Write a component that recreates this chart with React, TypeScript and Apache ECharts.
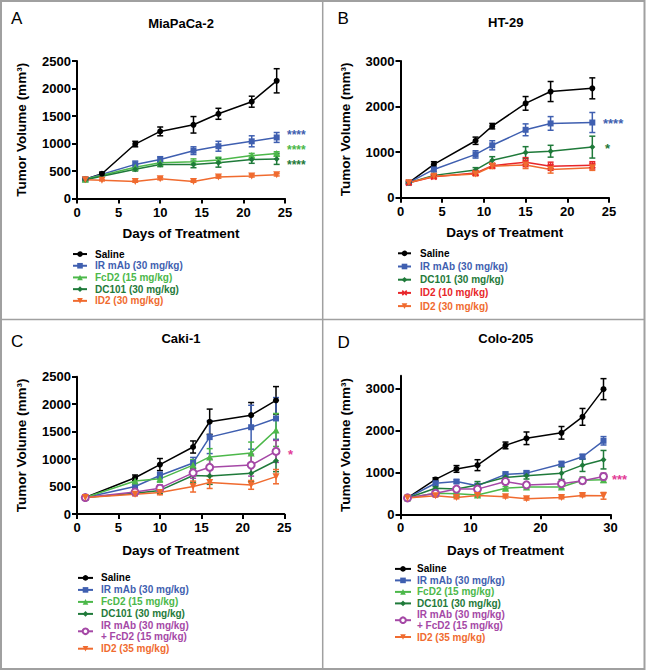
import React, { useEffect, useRef } from "react";
import * as echarts from "echarts";

const FONT = "'Liberation Sans', Arial, Helvetica, sans-serif";

const COL_SALINE = "#000000";
const COL_IR = "#3f5fb0";
const COL_FCD2 = "#4cb84a";
const COL_DC101 = "#1f7a3a";
const COL_ID2 = "#f06b2f";
const COL_ID2_10 = "#e8262a";
const COL_COMBO = "#a548a6";
const COL_STAR_PINK = "#e23c96";

const NAME_SALINE = "Saline";
const NAME_IR = "IR mAb (30 mg/kg)";
const NAME_FCD2 = "FcD2 (15 mg/kg)";
const NAME_DC101 = "DC101 (30 mg/kg)";
const NAME_ID2_30 = "ID2 (30 mg/kg)";
const NAME_ID2_10 = "ID2 (10 mg/kg)";
const NAME_ID2_35 = "ID2 (35 mg/kg)";
const NAME_COMBO = "IR mAb (30 mg/kg)\n+ FcD2 (15 mg/kg)";

const X_NAME = "Days of Treatment";
const Y_NAME = "Tumor Volume (mm³)";
const TITLES = ["MiaPaCa-2", "HT-29", "Caki-1", "Colo-205"];
const LETTERS = ["A", "B", "C", "D"];

// Panel A: MiaPaCa-2
const A_DAYS = [1, 3, 7, 10, 14, 17, 21, 24];
const A_DAYS_TX = [1, 7, 10, 14, 17, 21, 24];
const A_SALINE = [350, 450, 990, 1220, 1340, 1540, 1760, 2140];
const A_SALINE_ERR = [20, 30, 50, 80, 150, 100, 100, 220];
const A_IR = [350, 620, 710, 870, 950, 1040, 1110];
const A_IR_ERR = [20, 60, 50, 70, 90, 100, 90];
const A_FCD2 = [350, 570, 650, 670, 700, 780, 820];
const A_FCD2_ERR = [20, 40, 40, 50, 50, 40, 30];
const A_DC101 = [340, 530, 620, 620, 650, 710, 720];
const A_DC101_ERR = [20, 30, 40, 60, 80, 70, 100];
const A_ID2 = [340, 330, 310, 360, 310, 390, 410, 430];
const A_ID2_ERR = [10, 10, 15, 20, 15, 20, 20, 20];

// Panel B: HT-29
const B_DAYS = [1, 4, 9, 11, 15, 18, 23];
const B_SALINE = [330, 730, 1250, 1570, 2070, 2330, 2400];
const B_SALINE_ERR = [20, 60, 80, 60, 150, 220, 230];
const B_IR = [330, 620, 950, 1150, 1490, 1630, 1650];
const B_IR_ERR = [20, 50, 80, 100, 130, 150, 220];
const B_DC101 = [330, 490, 610, 820, 990, 1020, 1110];
const B_DC101_ERR = [20, 30, 50, 80, 130, 130, 240];
const B_ID2_10 = [330, 460, 540, 700, 780, 690, 710];
const B_ID2_10_ERR = [20, 40, 40, 50, 100, 90, 80];
const B_ID2_30 = [330, 470, 520, 690, 720, 620, 660];
const B_ID2_30_ERR = [20, 30, 40, 50, 80, 80, 60];

// Panel C: Caki-1
const C_DAYS = [1, 7, 10, 14, 16, 21, 24];
const C_SALINE = [300, 660, 900, 1220, 1680, 1800, 2070];
const C_SALINE_ERR = [20, 50, 110, 110, 230, 230, 250];
const C_IR = [300, 500, 700, 930, 1400, 1580, 1740];
const C_IR_ERR = [20, 60, 60, 100, 300, 400, 380];
const C_FCD2 = [300, 600, 640, 890, 1040, 1110, 1530];
const C_FCD2_ERR = [20, 50, 60, 100, 150, 200, 300];
const C_DC101 = [300, 380, 430, 700, 690, 740, 970];
const C_DC101_ERR = [20, 30, 60, 120, 150, 150, 200];
const C_COMBO = [300, 400, 470, 750, 850, 890, 1140];
const C_COMBO_ERR = [20, 40, 60, 100, 150, 200, 200];
const C_ID2 = [300, 360, 390, 500, 575, 530, 680];
const C_ID2_ERR = [20, 30, 40, 100, 110, 80, 130];

// Panel D: Colo-205
const D_DAYS = [1, 5, 8, 11, 15, 18, 23, 26, 29];
const D_SALINE = [390, 830, 1080, 1170, 1640, 1810, 1940, 2320, 2980];
const D_SALINE_ERR = [20, 40, 80, 130, 80, 150, 150, 200, 250];
const D_IR = [390, 740, 780, 680, 950, 980, 1200, 1370, 1750];
const D_IR_ERR = [20, 40, 40, 50, 60, 60, 60, 60, 100];
const D_FCD2 = [390, 500, 490, 460, 620, 650, 650, 810, 820];
const D_FCD2_ERR = [20, 30, 30, 40, 40, 40, 40, 80, 60];
const D_DC101 = [390, 620, 600, 700, 880, 920, 980, 1170, 1300];
const D_DC101_ERR = [20, 40, 40, 80, 80, 80, 150, 150, 220];
const D_COMBO = [390, 500, 600, 600, 780, 700, 730, 800, 900];
const D_COMBO_ERR = [20, 40, 40, 40, 50, 50, 50, 60, 80];
const D_ID2 = [390, 440, 400, 450, 420, 370, 400, 450, 440];
const D_ID2_ERR = [20, 30, 30, 30, 30, 30, 30, 30, 80];

const X_MAX = [25, 25, 25, 30];
const X_INTERVAL = [5, 5, 5, 10];
const Y_MAX = [2500, 3000, 2500, 3300];
const Y_INTERVAL = [500, 1000, 500, 1000];
const D_Y_TICKS = [0, 1000, 2000, 3000];

const X_SYMBOL = "path://M0,2L2,0L5,3L8,0L10,2L7,5L10,8L8,10L5,7L2,10L0,8L3,5Z";

type Sym = { symbol: string; size: number; rotate?: number };
const SYM: Record<string, Sym> = {
  saline: { symbol: "circle", size: 6 },
  ir: { symbol: "rect", size: 6 },
  fcd2: { symbol: "triangle", size: 7 },
  dc101: { symbol: "diamond", size: 6 },
  id2: { symbol: "triangle", size: 7, rotate: 180 },
  id2x: { symbol: X_SYMBOL, size: 7 },
  combo: { symbol: "emptyCircle", size: 7 },
};

type S = { panel: number; name: string; days: number[]; vals: number[]; errs: number[]; color: string; sym: Sym };

const SERIES: S[] = [
  { panel: 0, name: NAME_SALINE, days: A_DAYS, vals: A_SALINE, errs: A_SALINE_ERR, color: COL_SALINE, sym: SYM.saline },
  { panel: 0, name: NAME_IR, days: A_DAYS_TX, vals: A_IR, errs: A_IR_ERR, color: COL_IR, sym: SYM.ir },
  { panel: 0, name: NAME_FCD2, days: A_DAYS_TX, vals: A_FCD2, errs: A_FCD2_ERR, color: COL_FCD2, sym: SYM.fcd2 },
  { panel: 0, name: NAME_DC101, days: A_DAYS_TX, vals: A_DC101, errs: A_DC101_ERR, color: COL_DC101, sym: SYM.dc101 },
  { panel: 0, name: NAME_ID2_30, days: A_DAYS, vals: A_ID2, errs: A_ID2_ERR, color: COL_ID2, sym: SYM.id2 },

  { panel: 1, name: NAME_SALINE, days: B_DAYS, vals: B_SALINE, errs: B_SALINE_ERR, color: COL_SALINE, sym: SYM.saline },
  { panel: 1, name: NAME_IR, days: B_DAYS, vals: B_IR, errs: B_IR_ERR, color: COL_IR, sym: SYM.ir },
  { panel: 1, name: NAME_DC101, days: B_DAYS, vals: B_DC101, errs: B_DC101_ERR, color: COL_DC101, sym: SYM.dc101 },
  { panel: 1, name: NAME_ID2_10, days: B_DAYS, vals: B_ID2_10, errs: B_ID2_10_ERR, color: COL_ID2_10, sym: SYM.id2x },
  { panel: 1, name: NAME_ID2_30, days: B_DAYS, vals: B_ID2_30, errs: B_ID2_30_ERR, color: COL_ID2, sym: SYM.id2 },

  { panel: 2, name: NAME_SALINE, days: C_DAYS, vals: C_SALINE, errs: C_SALINE_ERR, color: COL_SALINE, sym: SYM.saline },
  { panel: 2, name: NAME_IR, days: C_DAYS, vals: C_IR, errs: C_IR_ERR, color: COL_IR, sym: SYM.ir },
  { panel: 2, name: NAME_FCD2, days: C_DAYS, vals: C_FCD2, errs: C_FCD2_ERR, color: COL_FCD2, sym: SYM.fcd2 },
  { panel: 2, name: NAME_DC101, days: C_DAYS, vals: C_DC101, errs: C_DC101_ERR, color: COL_DC101, sym: SYM.dc101 },
  { panel: 2, name: NAME_COMBO, days: C_DAYS, vals: C_COMBO, errs: C_COMBO_ERR, color: COL_COMBO, sym: SYM.combo },
  { panel: 2, name: NAME_ID2_35, days: C_DAYS, vals: C_ID2, errs: C_ID2_ERR, color: COL_ID2, sym: SYM.id2 },

  { panel: 3, name: NAME_SALINE, days: D_DAYS, vals: D_SALINE, errs: D_SALINE_ERR, color: COL_SALINE, sym: SYM.saline },
  { panel: 3, name: NAME_IR, days: D_DAYS, vals: D_IR, errs: D_IR_ERR, color: COL_IR, sym: SYM.ir },
  { panel: 3, name: NAME_FCD2, days: D_DAYS, vals: D_FCD2, errs: D_FCD2_ERR, color: COL_FCD2, sym: SYM.fcd2 },
  { panel: 3, name: NAME_DC101, days: D_DAYS, vals: D_DC101, errs: D_DC101_ERR, color: COL_DC101, sym: SYM.dc101 },
  { panel: 3, name: NAME_COMBO, days: D_DAYS, vals: D_COMBO, errs: D_COMBO_ERR, color: COL_COMBO, sym: SYM.combo },
  { panel: 3, name: NAME_ID2_35, days: D_DAYS, vals: D_ID2, errs: D_ID2_ERR, color: COL_ID2, sym: SYM.id2 },
];

const LEGENDS: { names: string[]; colors: string[] }[] = [
  { names: [NAME_SALINE, NAME_IR, NAME_FCD2, NAME_DC101, NAME_ID2_30], colors: [COL_SALINE, COL_IR, COL_FCD2, COL_DC101, COL_ID2] },
  { names: [NAME_SALINE, NAME_IR, NAME_DC101, NAME_ID2_10, NAME_ID2_30], colors: [COL_SALINE, COL_IR, COL_DC101, COL_ID2_10, COL_ID2] },
  { names: [NAME_SALINE, NAME_IR, NAME_FCD2, NAME_DC101, NAME_COMBO, NAME_ID2_35], colors: [COL_SALINE, COL_IR, COL_FCD2, COL_DC101, COL_COMBO, COL_ID2] },
  { names: [NAME_SALINE, NAME_IR, NAME_FCD2, NAME_DC101, NAME_COMBO, NAME_ID2_35], colors: [COL_SALINE, COL_IR, COL_FCD2, COL_DC101, COL_COMBO, COL_ID2] },
];

// layout (pixels)
const GRIDS = [
  { left: 77, top: 61, width: 208, height: 137.5 },
  { left: 400.5, top: 61, width: 208.5, height: 136.7 },
  { left: 77, top: 376.7, width: 207.3, height: 137.3 },
  { left: 400.5, top: 375.7, width: 210, height: 138.6 },
];
const LEGEND_POS = [
  { left: 72, top: 248.2, itemWidth: 14, lineHeight: 11.7, gap: 0, pad: 3 },
  { left: 397, top: 247.3, itemWidth: 13, lineHeight: 12, gap: 1.2, pad: 4 },
  { left: 77, top: 572.5, itemWidth: 15, lineHeight: 10.8, gap: 1.2, pad: 3 },
  { left: 394, top: 563.6, itemWidth: 16, lineHeight: 10.6, gap: 0.9, pad: 1 },
];

function errRender(color: string) {
  return (params: any, api: any) => {
    const x = api.value(0);
    const lo = api.coord([x, api.value(1)]);
    const hi = api.coord([x, api.value(2)]);
    const w = 3;
    const st = { stroke: color, lineWidth: 1.5 };
    return {
      type: "group",
      children: [
        { type: "line", shape: { x1: lo[0], y1: lo[1], x2: hi[0], y2: hi[1] }, style: st },
        { type: "line", shape: { x1: lo[0] - w, y1: lo[1], x2: lo[0] + w, y2: lo[1] }, style: st },
        { type: "line", shape: { x1: hi[0] - w, y1: hi[1], x2: hi[0] + w, y2: hi[1] }, style: st },
      ],
    };
  };
}

function buildOption(): any {
  const axisText = { fontFamily: FONT, fontSize: 13, fontWeight: "bold", color: "#000", formatter: (v: number) => String(v) };
  const nameText = { fontFamily: FONT, fontSize: 13.5, fontWeight: "bold", color: "#000" };
  const axisLine = { show: true, onZero: false, lineStyle: { color: "#000", width: 2 } };
  const axisTick = { show: true, length: 5, lineStyle: { color: "#000", width: 2 } };

  const xAxis = GRIDS.map((_, i) => ({
    type: "value", gridIndex: i, min: 0, max: X_MAX[i], interval: X_INTERVAL[i],
    name: X_NAME, nameLocation: "middle", nameGap: i < 2 ? 28 : 29, nameTextStyle: nameText,
    axisLine, axisTick, axisLabel: { ...axisText, margin: 7 }, splitLine: { show: false },
  }));
  const yAxis = GRIDS.map((_, i) => {
    const ax: any = {
      type: "value", gridIndex: i, min: 0, max: Y_MAX[i], interval: Y_INTERVAL[i],
      name: Y_NAME, nameLocation: "middle", nameGap: 48.5, nameTextStyle: nameText,
      axisLine, axisTick: { ...axisTick }, axisLabel: { ...axisText, margin: 6 }, splitLine: { show: false },
    };
    if (i === 3) {
      ax.axisTick = { ...axisTick, customValues: D_Y_TICKS };
      ax.axisLabel = { ...axisText, margin: 6, customValues: D_Y_TICKS };
    }
    return ax;
  });

  const series: any[] = [];
  SERIES.forEach((s) => {
    series.push({
      type: "custom", xAxisIndex: s.panel, yAxisIndex: s.panel, silent: true, z: 2,
      encode: { x: 0, y: [1, 2] },
      data: s.days.map((d, k) => [d, s.vals[k] - s.errs[k], s.vals[k] + s.errs[k]]),
      renderItem: errRender(s.color),
    });
  });
  SERIES.forEach((s) => {
    const empty = s.sym.symbol === "emptyCircle";
    series.push({
      type: "line", name: s.name, xAxisIndex: s.panel, yAxisIndex: s.panel, z: 3,
      data: s.days.map((d, k) => [d, s.vals[k]]),
      symbol: s.sym.symbol, symbolSize: s.sym.size, symbolRotate: s.sym.rotate || 0,
      showAllSymbol: true,
      itemStyle: empty ? { color: s.color, borderColor: s.color, borderWidth: 1.5 } : { color: s.color },
      lineStyle: { color: s.color, width: 1.5 },
      emphasis: { disabled: true },
    });
  });

  const legend = LEGENDS.map((lg, i) => {
    const p = LEGEND_POS[i];
    return {
      orient: "vertical", left: p.left, top: p.top, padding: 0, itemGap: p.gap,
      itemWidth: p.itemWidth, itemHeight: 7, selectedMode: false,
      textStyle: { fontFamily: FONT, fontSize: 10, fontWeight: "bold", lineHeight: p.lineHeight, padding: [0, 0, 0, p.pad] },
      data: lg.names.map((n, k) => ({ name: n, textStyle: { color: lg.colors[k] } })),
    };
  });

  const txt = (x: number, y: number, text: string, size: number, color: string, weight: string, align = "center") => ({
    type: "text", x, y, silent: true, z: 10,
    style: { text, fill: color, fontFamily: FONT, fontSize: size, fontWeight: weight, align, verticalAlign: "middle" },
  });

  const graphic: any[] = [
    { type: "rect", shape: { x: 1, y: 1, width: 643.5, height: 668 }, style: { fill: "none", stroke: "#a0a0a0", lineWidth: 2 }, silent: true },
    { type: "line", shape: { x1: 322.7, y1: 1, x2: 322.7, y2: 669 }, style: { stroke: "#a0a0a0", lineWidth: 1.5 }, silent: true },
    { type: "line", shape: { x1: 1, y1: 319.5, x2: 644.5, y2: 319.5 }, style: { stroke: "#a0a0a0", lineWidth: 1.5 }, silent: true },
    txt(181, 23.3, TITLES[0], 13, "#000", "bold"),
    txt(505.7, 22.7, TITLES[1], 13, "#000", "bold"),
    txt(181, 338.3, TITLES[2], 13, "#000", "bold"),
    txt(505.7, 338.3, TITLES[3], 13, "#000", "bold"),
    txt(11, 18.5, LETTERS[0], 17, "#000", "normal", "left"),
    txt(337.5, 18.5, LETTERS[1], 17, "#000", "normal", "left"),
    txt(11, 341.5, LETTERS[2], 17, "#000", "normal", "left"),
    txt(337.5, 342, LETTERS[3], 17, "#000", "normal", "left"),
    txt(287, 134.6, "****", 12, COL_IR, "bold", "left"),
    txt(287, 149.6, "****", 12, COL_FCD2, "bold", "left"),
    txt(287, 164.6, "****", 12, COL_DC101, "bold", "left"),
    txt(603, 123.5, "****", 13, COL_IR, "bold", "left"),
    txt(605, 148.5, "*", 13, COL_DC101, "bold", "left"),
    txt(288, 454.5, "*", 13, COL_STAR_PINK, "bold", "left"),
    txt(612, 479.5, "***", 13, COL_STAR_PINK, "bold", "left"),
  ];

  return {
    animation: false,
    backgroundColor: "#ffffff",
    grid: GRIDS.map((g) => ({ ...g, containLabel: false })),
    xAxis, yAxis, legend, series, graphic,
  };
}

export default function App() {
  const ref = useRef<HTMLDivElement>(null);
  useEffect(() => {
    document.body.style.margin = "0";
    if (!ref.current) return;
    const chart = echarts.init(ref.current, undefined, { renderer: "svg" });
    chart.setOption(buildOption());
    return () => chart.dispose();
  }, []);
  return <div ref={ref} style={{ width: 646, height: 671, position: "absolute", left: 0, top: 0, background: "#fff" }} />;
}
